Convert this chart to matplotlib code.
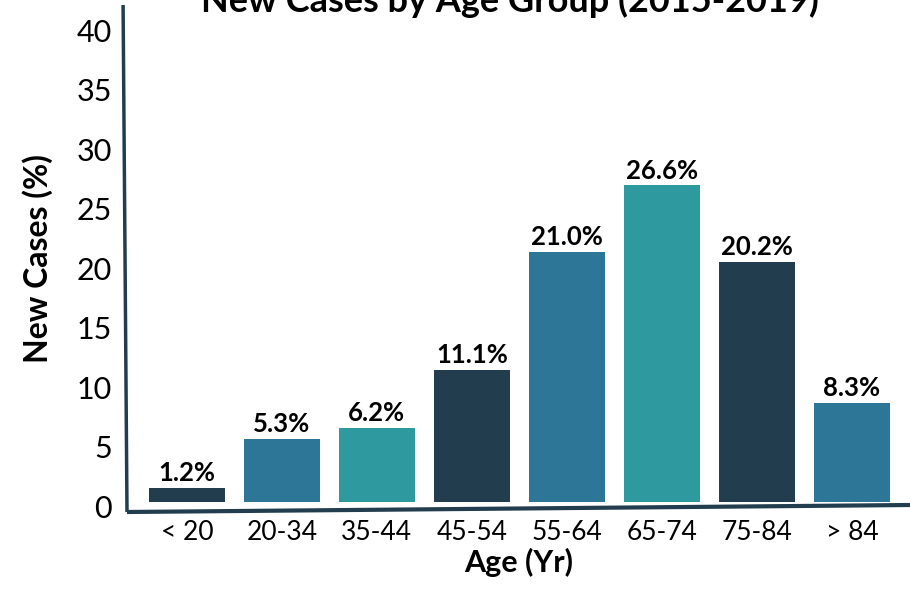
import matplotlib
matplotlib.use("Agg")
import matplotlib.pyplot as plt
import matplotlib.transforms as mtransforms

# Share of new cases by age group
age_groups = ["< 20", "20-34", "35-44", "45-54", "55-64", "65-74", "75-84", "> 84"]
new_cases_pct = [1.2, 5.3, 6.2, 11.1, 21.0, 26.6, 20.2, 8.3]
y_ticks = [0, 5, 10, 15, 20, 25, 30, 35, 40]

navy = "#213d4e"
blue = "#2e7698"
teal = "#2e9aa0"
bar_colors = [navy, blue, teal, navy, blue, teal, navy, blue]

plt.rcParams["font.family"] = ["Lato", "DejaVu Sans"]

fig = plt.figure(figsize=(9.10, 5.93), dpi=100)
ax = fig.add_axes([127 / 910, 1 - 512 / 593, 1 - 127 / 910, (512 - 5) / 593])

x = list(range(len(age_groups)))
ax.bar(x, new_cases_pct, width=0.8, color=bar_colors)

for xi, v in zip(x, new_cases_pct):
    ax.annotate(f"{v:.1f}%", (xi, v), xytext=(0, 2), textcoords="offset points",
                ha="center", va="bottom", fontsize=18.5, fontweight="bold", color="black")

px_per_unit = 11.9
ax.set_xlim(-0.63, 7.61)
ax.set_ylim(-10 / px_per_unit, 497 / px_per_unit)
ax.set_xticks(x)
ax.set_xticklabels(age_groups, fontsize=19)
ax.set_yticks(y_ticks)
ax.set_yticklabels([str(t) for t in y_ticks], fontsize=22)
ax.tick_params(axis="both", length=0)
ax.tick_params(axis="y", pad=11)
ax.tick_params(axis="x", pad=6)

# nudge y tick labels slightly downward
shift = mtransforms.ScaledTranslation(0, -3 / 72, fig.dpi_scale_trans)
for lab in ax.get_yticklabels():
    lab.set_transform(lab.get_transform() + shift)

for s in ax.spines.values():
    s.set_visible(False)

# hand-drawn, slightly tilted axis lines
ax.plot([-0.005, 0.0], [1.0, 0.0], transform=ax.transAxes, color=navy, lw=2.5,
        clip_on=False, solid_capstyle="butt")
ax.plot([0.0, 1.0], [0.0, 7 / 507], transform=ax.transAxes, color=navy, lw=3,
        clip_on=False, solid_capstyle="butt")

ax.set_ylabel("New Cases (%)", fontsize=23, fontweight="bold", labelpad=17)
ax.set_xlabel("Age (Yr)", fontsize=22, fontweight="bold", labelpad=2)

fig.text(0.56, 1.0 - 1 / 593, "New Cases by Age Group (2015-2019)", ha="center",
         va="center", fontsize=26, fontweight="bold")

fig.savefig("out.png", dpi=100)
